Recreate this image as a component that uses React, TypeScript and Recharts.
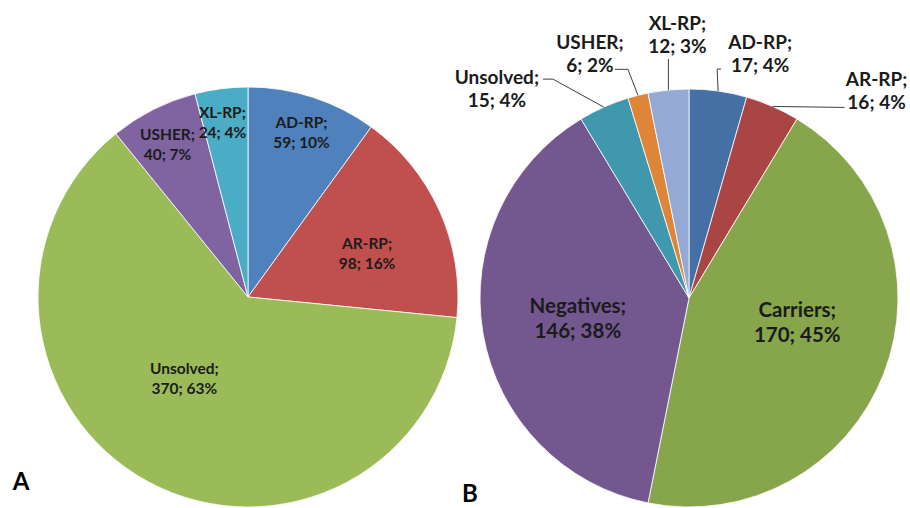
import { Cell, Pie, PieChart } from "recharts";

// Panel A – patients by inheritance group
const groupsA = ["AD-RP", "AR-RP", "Unsolved", "USHER", "XL-RP"];
const valuesA = [59, 98, 370, 40, 24];
const percentsA = ["10%", "16%", "63%", "7%", "4%"];
const colorsA = ["#4F81BD", "#C0504D", "#9BBB59", "#8064A2", "#4BACC6"];

// Panel B – screening outcome
const groupsB = ["AD-RP", "AR-RP", "Carriers", "Negatives", "Unsolved", "USHER", "XL-RP"];
const valuesB = [17, 16, 170, 146, 15, 6, 12];
const percentsB = ["4%", "4%", "45%", "38%", "4%", "2%", "3%"];
const colorsB = ["#4470A6", "#A94543", "#87A54B", "#735890", "#3F98AE", "#DE8537", "#94A9D3"];

const dataA = groupsA.map((name, i) => ({ name, value: valuesA[i], pct: percentsA[i] }));
const dataB = groupsB.map((name, i) => ({ name, value: valuesB[i], pct: percentsB[i] }));

const FONT = "Lato, 'Open Sans', sans-serif";
const RAD = Math.PI / 180;

// inside labels: radius ratio and angular shift (degrees, clockwise)
const insideA = [
  { r: 0.826, shift: 0 },
  { r: 0.604, shift: 4 },
  { r: 0.489, shift: 10 },
  { r: 0.822, shift: -1 },
  { r: 0.842, shift: -1 },
];

// B: big slices inside, small ones outside with leader lines
type OutLabel = { dx: number; dy: number; leader: [number, number][] };
const layoutB: (OutLabel | { r: number; shift: number })[] = [
  { dx: 42, dy: -39, leader: [[-1, -22], [3, -22]] },
  { dx: 104, dy: -17, leader: [[72, 1]] },
  { r: 0.53, shift: -9 },
  { r: 0.54, shift: 0 },
  { dx: -107, dy: -20, leader: [[-51, -28], [-61, -28]] },
  { dx: -48, dy: -43, leader: [[-10, -26], [-23, -26]] },
  { dx: 9, dy: -57, leader: [[0, -31]] },
];

const polar = (cx: number, cy: number, r: number, angle: number) => ({
  x: cx + Math.cos(-angle * RAD) * r,
  y: cy + Math.sin(-angle * RAD) * r,
});

function TwoLine({ x, y, a, b, size, gap }: { x: number; y: number; a: string; b: string; size: number; gap: number }) {
  return (
    <text
      x={x}
      y={y}
      textAnchor="middle"
      fontFamily={FONT}
      fontWeight="bold"
      fontSize={size}
      fill="#1b1b1b"
      dominantBaseline="central"
    >
      <tspan x={x} y={y - gap / 2}>{a}</tspan>
      <tspan x={x} y={y + gap / 2}>{b}</tspan>
    </text>
  );
}

const renderA = (p: any) => {
  const { cx, cy, midAngle, outerRadius, index, payload } = p;
  const pos = insideA[index];
  const pt = polar(cx, cy, outerRadius * pos.r, midAngle - pos.shift);
  return (
    <TwoLine key={index} x={pt.x} y={pt.y} a={`${payload.name};`} b={`${payload.value}; ${payload.pct}`} size={15.5} gap={20} />
  );
};

const renderB = (p: any) => {
  const { cx, cy, midAngle, outerRadius, index, payload } = p;
  const lay = layoutB[index];
  const a = `${payload.name};`;
  const b = `${payload.value}; ${payload.pct}`;
  if ("r" in lay) {
    const pt = polar(cx, cy, outerRadius * lay.r, midAngle - lay.shift);
    return <TwoLine key={index} x={pt.x} y={pt.y} a={a} b={b} size={20.5} gap={25} />;
  }
  const edge = polar(cx, cy, outerRadius, midAngle);
  const pts = [[0, 0], ...lay.leader].map(([dx, dy]) => `${edge.x + dx},${edge.y + dy}`).join(" ");
  return (
    <g key={index}>
      <polyline points={pts} fill="none" stroke="#404040" strokeWidth={1} />
      <TwoLine x={edge.x + lay.dx} y={edge.y + lay.dy} a={a} b={b} size={19} gap={23} />
    </g>
  );
};

export default function App() {
  return (
    <div style={{ position: "absolute", left: 0, top: 0, width: 910, height: 508, background: "#fff" }}>
      <PieChart width={910} height={508} margin={{ top: 0, right: 0, bottom: 0, left: 0 }}>
        <Pie
          data={dataA}
          dataKey="value"
          cx={248}
          cy={297}
          outerRadius={210}
          startAngle={90}
          endAngle={-270}
          stroke="#fff"
          strokeWidth={0.8}
          label={renderA}
          labelLine={false}
          isAnimationActive={false}
        >
          {dataA.map((d, i) => (
            <Cell key={d.name} fill={colorsA[i]} />
          ))}
        </Pie>
        <Pie
          data={dataB}
          dataKey="value"
          cx={689}
          cy={298}
          outerRadius={209}
          startAngle={90}
          endAngle={-270}
          stroke="#fff"
          strokeWidth={0.8}
          label={renderB}
          labelLine={false}
          isAnimationActive={false}
        >
          {dataB.map((d, i) => (
            <Cell key={d.name} fill={colorsB[i]} />
          ))}
        </Pie>
        <text x={21} y={490} textAnchor="middle" fontFamily={FONT} fontWeight="bold" fontSize={24} fill="#000">
          A
        </text>
        <text x={470} y={502} textAnchor="middle" fontFamily={FONT} fontWeight="bold" fontSize={24} fill="#000">
          B
        </text>
      </PieChart>
    </div>
  );
}
